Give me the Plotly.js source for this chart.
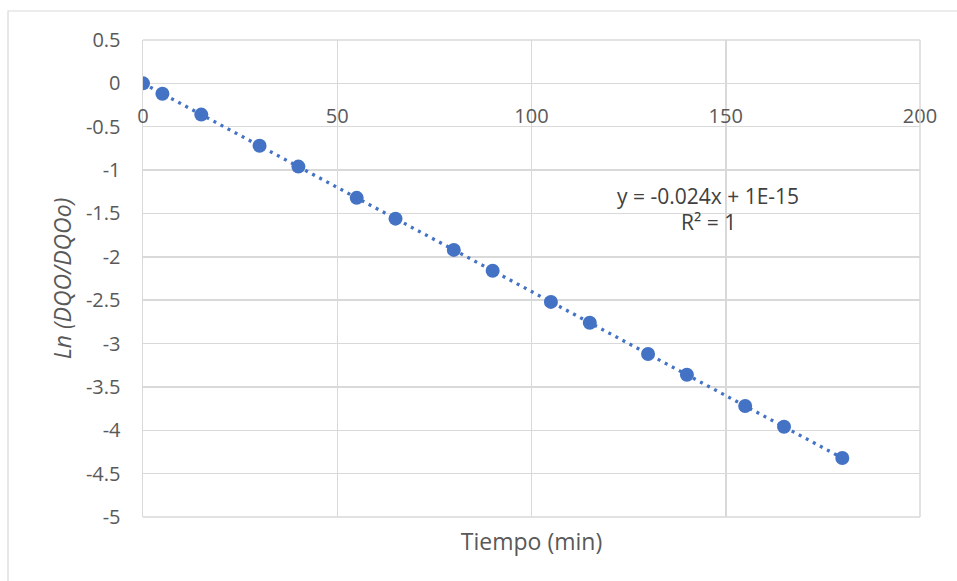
<!DOCTYPE html>
<html>
<head>
<meta charset="utf-8">
<script src="https://cdn.plot.ly/plotly-3.0.1.min.js"></script>
<style>html,body{margin:0;padding:0;background:#fff;}#chart{width:957px;height:581px;}</style>
</head>
<body>
<div id="chart"></div>
<script>
const tiempo = [0, 5, 15, 30, 40, 55, 65, 80, 90, 105, 115, 130, 140, 155, 165, 180];
const lnRatio = [0, -0.12, -0.36, -0.72, -0.96, -1.32, -1.56, -1.92, -2.16, -2.52, -2.76, -3.12, -3.36, -3.72, -3.96, -4.32];
const trendX = [0, 180];
const trendY = [0, -4.32];
const xTicks = [0, 50, 100, 150, 200];
const yTicks = [0.5, 0, -0.5, -1, -1.5, -2, -2.5, -3, -3.5, -4, -4.5, -5];
const eqText = "y = -0.024x + 1E-15";
const r2Text = "R² = 1";

const blue = '#4472C4';
const grid = '#D9D9D9';
const txt = '#595959';
const fontFam = '"Open Sans", sans-serif';

const traces = [
  {x: trendX, y: trendY, type: 'scatter', mode: 'lines', xaxis: 'x2', yaxis: 'y',
   line: {color: blue, width: 3.3, dash: '3px,5px'}, hoverinfo: 'skip', showlegend: false},
  {x: tiempo, y: lnRatio, type: 'scatter', mode: 'markers', xaxis: 'x', yaxis: 'y',
   marker: {color: blue, size: 14}, showlegend: false}
];

const layout = {
  width: 957, height: 581,
  margin: {l: 143, r: 37, t: 40, b: 64},
  paper_bgcolor: '#fff', plot_bgcolor: '#fff',
  font: {family: fontFam, color: txt, size: 20},
  showlegend: false,
  xaxis: {
    range: [0, 200], tickvals: xTicks, showgrid: true, gridcolor: grid, gridwidth: 1.5,
    showticklabels: false, zeroline: false, showline: false, ticks: '',
    title: {text: 'Tiempo (min)', font: {size: 23, color: txt, family: fontFam}, standoff: 16}
  },
  xaxis2: {
    overlaying: 'x', anchor: 'free', position: 5 / 5.5, range: [0, 200], tickvals: xTicks,
    showgrid: false, zeroline: false, showline: false,
    ticks: 'outside', ticklen: 15, tickcolor: 'rgba(0,0,0,0)',
    tickfont: {size: 20, color: txt, family: fontFam}
  },
  yaxis: {
    range: [-5, 0.5], tickvals: yTicks, ticktext: yTicks.map(String),
    showgrid: true, gridcolor: grid, gridwidth: 1.5, zeroline: false,
    showline: true, linecolor: grid, linewidth: 1.5,
    ticks: 'outside', ticklen: 17, tickcolor: 'rgba(0,0,0,0)',
    tickfont: {size: 20, color: txt, family: fontFam},
    title: {text: '<i>Ln (DQO/DQOo)</i>', font: {size: 23, color: txt, family: fontFam}, standoff: 8}
  },
  shapes: [
    {type: 'line', xref: 'paper', yref: 'paper', x0: 0, x1: 1, y0: 1, y1: 1, line: {color: grid, width: 1.5}},
    {type: 'line', xref: 'paper', yref: 'paper', x0: 1, x1: 1, y0: 0, y1: 1, line: {color: grid, width: 1.5}},
    {type: 'line', xref: 'paper', yref: 'paper', x0: 0, x1: 1, y0: 0, y1: 0, line: {color: grid, width: 1.5}},
    {type: 'rect', xref: 'paper', yref: 'paper', x0: (8 - 143) / 777, x1: 1.1, y0: (517 - 11) / 477, y1: -0.2,
     line: {color: '#D9D9D9', width: 1.2}, fillcolor: 'rgba(0,0,0,0)', layer: 'below'}
  ],
  annotations: [
    {xref: 'x', yref: 'y', x: 145.5, y: -1.3, text: eqText, showarrow: false,
     font: {size: 21, color: '#404040', family: fontFam}},
    {xref: 'x', yref: 'y', x: 145.5, y: -1.6, text: r2Text, showarrow: false,
     font: {size: 21, color: '#404040', family: fontFam}}
  ]
};

Plotly.newPlot('chart', traces, layout, {displayModeBar: false, staticPlot: true});
</script>
</body>
</html>
